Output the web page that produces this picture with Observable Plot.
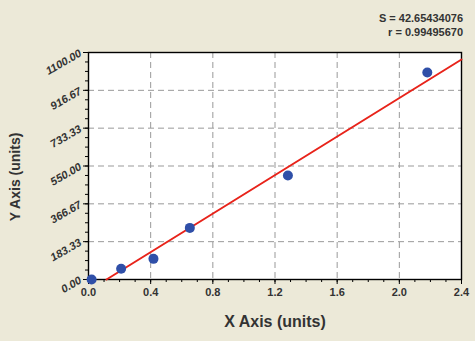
<!DOCTYPE html>
<html><head><meta charset="utf-8">
<script src="https://cdn.jsdelivr.net/npm/d3@7"></script>
<script src="https://cdn.jsdelivr.net/npm/@observablehq/plot@0.6"></script>
<style>
html,body{margin:0;padding:0;background:#ECE9D8;}
#chart{position:relative;width:475px;height:341px;}
</style></head>
<body><div id="chart"></div>
<script>
const pointX = [0.02, 0.21, 0.418, 0.652, 1.283, 2.18];
const pointY = [0, 52, 100, 250, 504, 1003];
const fitX = [0.116, 2.4];
const fitY = [0, 1066];
const xTicks = [0.0, 0.4, 0.8, 1.2, 1.6, 2.0, 2.4];
const xMinor = d3.range(0, 25).map(i => i / 10);
const yTicks = [0, 183.33, 366.67, 550.00, 733.33, 916.67, 1100.00];
const yMinor = d3.range(0, 25).map(i => i * 1100 / 24);
const statS = "S = 42.65434076";
const statR = "r = 0.99495670";

const points = pointX.map((x, i) => ({x, y: pointY[i]}));
const fit = fitX.map((x, i) => ({x, y: fitY[i]}));

const plot = Plot.plot({
  width: 475, height: 341,
  marginLeft: 88, marginRight: 14, marginTop: 52, marginBottom: 62,
  style: {background: "#ECE9D8", fontFamily: "Liberation Sans, Arial, sans-serif"},
  x: {domain: [0, 2.4], type: "linear", label: null},
  y: {domain: [0, 1100], type: "linear", label: null},
  marks: [
    Plot.frame({fill: "white"}),
    Plot.gridX(xTicks.slice(1, -1), {stroke: "#999", strokeOpacity: 1, strokeDasharray: "6,4"}),
    Plot.gridY(yTicks.slice(1, -1), {stroke: "#999", strokeOpacity: 1, strokeDasharray: "6,4"}),
    Plot.axisX(xMinor, {tickSize: 3, tickFormat: () => "", stroke: "#000", label: null}),
    Plot.axisX(xTicks, {tickSize: 5, tickFormat: d => d.toFixed(1), fontWeight: "bold", fontSize: 11, fill: "#333", stroke: "#000", tickPadding: 4, label: null}),
    Plot.axisY(yMinor, {tickSize: 3, tickFormat: () => "", stroke: "#000", label: null}),
    Plot.axisY(yTicks, {tickSize: 5, tickFormat: d => d.toFixed(2), tickRotate: -30, fontSize: 11, fontStyle: "italic", fontWeight: "bold", fill: "#333", stroke: "#000", tickPadding: 3, label: null}),
    Plot.frame({stroke: "#000", strokeWidth: 1.4}),
    Plot.line(fit, {x: "x", y: "y", stroke: "#E8231A", strokeWidth: 2}),
    Plot.dot(points, {x: "x", y: "y", r: 5, fill: "#2F4FA8", stroke: "none"})
  ]
});

const svg = d3.select(plot);
svg.append("text").attr("x", 463).attr("y", 22).attr("text-anchor", "end")
  .attr("font-size", 11).attr("font-weight", "bold").attr("fill", "#333").text(statS);
svg.append("text").attr("x", 463).attr("y", 36).attr("text-anchor", "end")
  .attr("font-size", 11).attr("font-weight", "bold").attr("fill", "#333").text(statR);
svg.append("text").attr("x", 275).attr("y", 327).attr("text-anchor", "middle")
  .attr("font-size", 16).attr("font-weight", "bold").attr("fill", "#333").text("X Axis (units)");
svg.append("text").attr("transform", "translate(20,177) rotate(-90)").attr("text-anchor", "middle")
  .attr("font-size", 14).attr("font-weight", "bold").attr("fill", "#333").text("Y Axis (units)");

document.getElementById("chart").appendChild(plot);
</script></body></html>
